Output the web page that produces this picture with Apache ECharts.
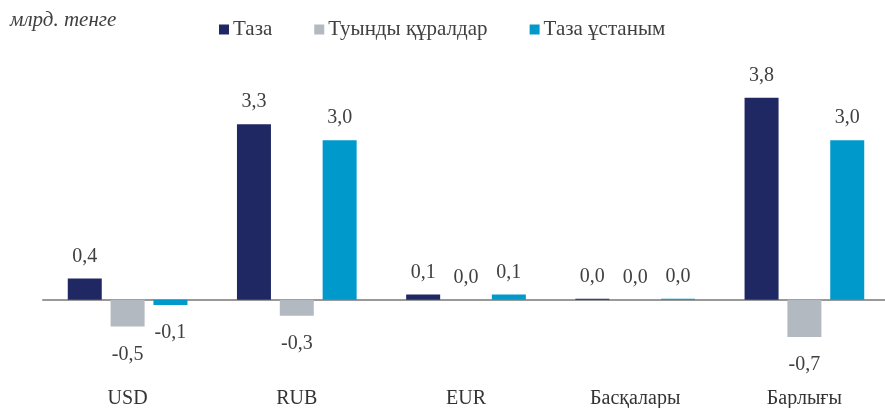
<!DOCTYPE html>
<html>
<head>
<meta charset="utf-8">
<script src="https://cdn.jsdelivr.net/npm/echarts@6/dist/echarts.min.js"></script>
<style>
  html, body { margin: 0; padding: 0; background: #fff; }
  #chart { width: 885px; height: 408px; }
</style>
</head>
<body>
<div id="chart"></div>
<script>
// Currency breakdown, bn tenge
const categories = ['USD', 'RUB', 'EUR', 'Басқалары', 'Барлығы'];
const seriesNames = ['Таза', 'Туынды құралдар', 'Таза ұстаным'];
const netValues = [0.4, 3.3, 0.1, 0.02, 3.8];
const derivValues = [-0.5, -0.3, 0.0, 0.0, -0.7];
const positionValues = [-0.1, 3.0, 0.1, 0.02, 3.0];
const colors = ['#1f2862', '#b3b9c0', '#0099cc'];

const serif = '"Liberation Serif", "DejaVu Serif", serif';
const fmt = v => v.toFixed(1).replace('.', ',').replace(/^-0,0$/, '0,0');

function buildData(values) {
  return values.map(v => ({
    value: v,
    label: {
      position: v < 0 ? 'bottom' : 'top',
      distance: v < 0 ? 18 : 12
    }
  }));
}

function makeSeries(name, values, color) {
  return {
    name: name,
    type: 'bar',
    data: buildData(values),
    barWidth: 34,
    barGap: '26%',
    itemStyle: { color: color },
    label: {
      show: true,
      fontFamily: serif,
      fontSize: 20,
      color: '#404040',
      formatter: p => fmt(p.value)
    }
  };
}

const chart = echarts.init(document.getElementById('chart'));
chart.setOption({
  animation: false,
  title: {
    text: 'млрд. тенге',
    left: 5,
    top: 5,
    textStyle: {
      fontFamily: serif,
      fontStyle: 'italic',
      fontWeight: 'normal',
      fontSize: 21,
      color: '#404040'
    }
  },
  legend: {
    top: 14,
    left: 214,
    itemWidth: 10,
    itemHeight: 10,
    itemGap: 42,
    icon: 'rect',
    textStyle: {
      fontFamily: serif,
      fontSize: 21,
      color: '#404040',
      padding: [0, 0, 0, -1]
    },
    data: seriesNames
  },
  grid: {
    left: 43,
    right: -4,
    top: 87,
    height: 266,
    containLabel: false,
    outerBoundsMode: 'none'
  },
  xAxis: {
    type: 'category',
    data: categories,
    axisLine: { show: true, onZero: true, lineStyle: { color: '#999', width: 2 } },
    axisTick: { show: false },
    axisLabel: {
      margin: 36,
      fontFamily: serif,
      fontSize: 20,
      color: '#333'
    }
  },
  yAxis: {
    type: 'value',
    min: -1,
    max: 4,
    show: false,
    splitLine: { show: false }
  },
  series: [
    makeSeries(seriesNames[0], netValues, colors[0]),
    makeSeries(seriesNames[1], derivValues, colors[1]),
    makeSeries(seriesNames[2], positionValues, colors[2])
  ]
});
</script>
</body>
</html>
